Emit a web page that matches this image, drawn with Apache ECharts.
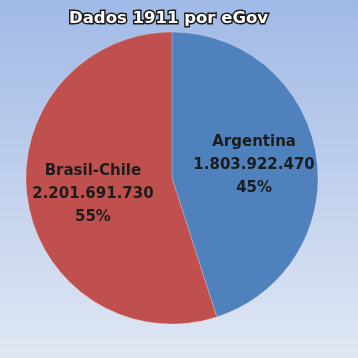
<!DOCTYPE html>
<html><head><meta charset="utf-8">
<script src="https://cdn.jsdelivr.net/npm/echarts@6/dist/echarts.min.js"></script>
<style>html,body{margin:0;padding:0;}#c{width:358px;height:358px;}</style>
</head><body><div id="c"></div>
<script>
var categories = ['Argentina', 'Brasil-Chile'];
var values = [1803922470, 2201691730];
var valueLabels = ['1.803.922.470', '2.201.691.730'];
var percentLabels = ['45%', '55%'];
var colors = ['#4f81bd', '#c0504d'];

var chart = echarts.init(document.getElementById('c'));
var data = categories.map(function (c, i) {
  return { name: c, value: values[i], itemStyle: { color: colors[i] } };
});
chart.setOption({
  animation: false,
  backgroundColor: new echarts.graphic.LinearGradient(0, 0, 0, 1, [
    { offset: 0, color: '#a0b9e6' },
    { offset: 1, color: '#e0e7f4' }
  ]),
  title: {
    text: 'Dados 1911 por eGov',
    left: 64, top: 5,
    textStyle: {
      fontFamily: 'DejaVu Sans', fontWeight: 'bold', fontSize: 16.5, color: '#ffffff',
      textBorderColor: '#1a1a1a', textBorderWidth: 3
    }
  },
  series: [{
    type: 'pie',
    center: [172, 178],
    radius: [0, 146],
    startAngle: 90,
    clockwise: true,
    itemStyle: { borderColor: 'rgba(255,255,255,0.35)', borderWidth: 0.6 },
    label: {
      position: 'inside',
      formatter: function (p) {
        return categories[p.dataIndex] + '\n' + valueLabels[p.dataIndex] + '\n' + percentLabels[p.dataIndex];
      },
      fontFamily: 'DejaVu Sans', fontWeight: 'bold', fontSize: 15, lineHeight: 23,
      color: '#1c1c1c', align: 'center'
    },
    labelLayout: function (p) {
      return p.dataIndex === 0 ? { dx: 7, dy: -1 } : { dx: -4, dy: 4 };
    },
    emphasis: { disabled: true },
    data: data
  }]
});
</script></body></html>
